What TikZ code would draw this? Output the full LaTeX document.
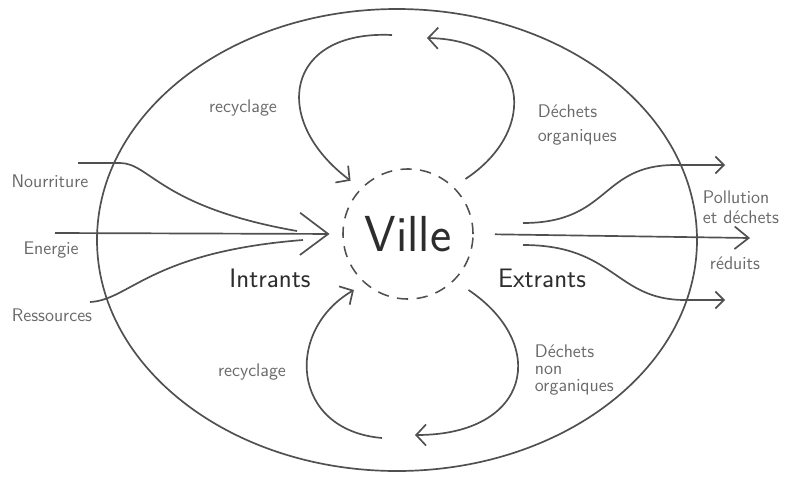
\documentclass[tikz,border=0pt]{standalone}
\usepackage{fontspec}
\usepackage{tikz}
\usetikzlibrary{arrows.meta}
\usepackage{xcolor}
\definecolor{crayon}{RGB}{80, 80, 80}
\definecolor{texte}{RGB}{105, 105, 105}
\definecolor{titre}{RGB}{45, 45, 45}

\begin{document}
\begin{tikzpicture}[x=0.025cm, y=-0.025cm,
    trait/.style={color=crayon, line width=1.2pt},
    fleche/.style={trait, -{Straight Barb[length=7pt, width=15pt]}},
    petite/.style={trait, -{Straight Barb[length=6pt, width=12pt]}},
    moyenne/.style={trait, -{Straight Barb[length=10pt, width=16pt]}},
    grosse/.style={trait, -{Straight Barb[length=20pt, width=30pt]}},
    etiq/.style={text=texte, font=\sffamily\fontsize{13}{15}\selectfont, align=left},
    grand/.style={text=titre, font=\sffamily\fontsize{19}{22}\selectfont}]
      \useasboundingbox (0,0) rectangle (808,476);
      \draw[trait] (397,240) ellipse [x radius=300, y radius=231];
      \node[circle, draw=crayon, line width=1.1pt, dash pattern=on 8pt off 6pt, minimum size=3.25cm, text=titre, font=\sffamily\fontsize{36}{40}\selectfont] (ville) at (408,234) {Ville};
      \node[etiq] (nourriture) at (50,181) {Nourriture};
      \node[etiq] (energie) at (51,250) {Energie};
      \node[etiq] (ressources) at (52,315) {Ressources};
      \node[grand] (intrants) at (270,278) {Intrants};
      \node[grand] (extrants) at (542,278) {Extrants};
      \node[etiq] (recyclage1) at (243,108) {recyclage};
      \node[etiq, anchor=west] (organiques) at (533,125) {Déchets\\[2pt]organiques};
      \node[etiq] (recyclage2) at (252,372) {recyclage};
      \node[etiq, anchor=west] (nonorganiques) at (530,370) {Déchets\\[-2.6pt]non\\[-2.6pt]organiques};
      \node[etiq, anchor=west] (pollution) at (698,207) {Pollution\\[-1pt]et déchets};
      \node[etiq, anchor=west] (reduits) at (705,263) {réduits};
      \coordinate (n0) at (78,163);
      \coordinate (n1) at (297,231);
      \coordinate (e0) at (55,233);
      \coordinate (r0) at (90,302);
      \coordinate (r1) at (303,240);
      \draw[trait] (n0) -- (120,163) .. controls (150,163) and (160,207) .. (n1);
      \draw[grosse, shorten >=9pt] (e0) -- (ville.west);
      \draw[trait] (r0) .. controls (130,300) and (150,252) .. (r1);
      \coordinate (hg) at (392,35);
      \coordinate (hd) at (427,38);
      \coordinate (bg) at (382,438);
      \coordinate (bd) at (415,435);
      \draw[fleche, shorten >=9pt] (hg) .. controls (285,30) and (270,120) .. (ville.136);
      \draw[fleche, shorten <=10pt] (ville.46) .. controls (540,130) and (530,40) .. (hd);
      \draw[fleche, shorten >=9pt] (bg) .. controls (290,430) and (285,330) .. (ville.229);
      \draw[fleche, shorten <=12pt] (ville.315) .. controls (550,345) and (530,435) .. (bd);
      \coordinate (s1) at (523,223);
      \coordinate (s1f) at (725,165);
      \coordinate (s2f) at (750,238);
      \coordinate (s3) at (523,245);
      \coordinate (s3f) at (725,300);
      \draw[petite] (s1) .. controls (610,223) and (600,165) .. (675,165) -- (s1f);
      \draw[moyenne, shorten <=15pt] (ville.east) -- (s2f);
      \draw[petite] (s3) .. controls (615,245) and (615,300) .. (685,300) -- (s3f);
    \end{tikzpicture}
\end{document}
